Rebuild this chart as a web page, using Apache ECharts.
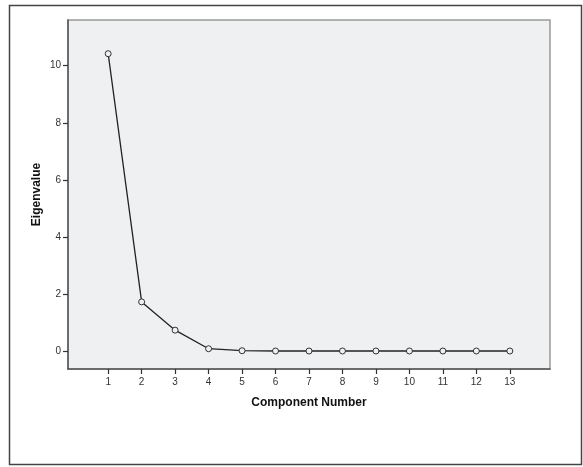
<!DOCTYPE html>
<html>
<head>
<meta charset="utf-8">
<script src="https://cdn.jsdelivr.net/npm/echarts@6/dist/echarts.min.js"></script>
<style>html,body{margin:0;padding:0;background:#fff;}#c{width:583px;height:467px;}</style>
</head>
<body>
<div id="c"></div>
<script>
var components = [1,2,3,4,5,6,7,8,9,10,11,12,13];
var eigenvalues = [10.42,1.73,0.74,0.09,0.02,0.01,0.01,0.01,0.01,0.01,0.01,0.01,0.01];
var yTicks = [0,2,4,6,8,10];
var xTitle = 'Component Number';
var yTitle = 'Eigenvalue';

var chart = echarts.init(document.getElementById('c'), null, {renderer:'canvas'});
var pts = components.map(function(c,i){return [c, eigenvalues[i]];});
chart.setOption({
  animation:false,
  backgroundColor:'#fff',
  graphic:[{type:'rect',shape:{x:9.5,y:5.5,width:572,height:459},style:{fill:'none',stroke:'#444',lineWidth:1.5},z:-1}],
  grid:{left:68,top:20,right:33,bottom:98,show:true,backgroundColor:'#eff0f2',borderColor:'#999',borderWidth:1.5},
  xAxis:{type:'value',min:-0.2,max:14.2,
    name:xTitle,nameLocation:'middle',nameGap:28,nameMoveOverlap:false,
    nameTextStyle:{fontFamily:'Liberation Sans',fontWeight:'bold',fontSize:12,color:'#111'},
    axisLine:{show:true,onZero:false,lineStyle:{color:'#555',width:1.5}},
    axisTick:{show:true,length:5,lineStyle:{color:'#333',width:1.2},customValues:components},
    axisLabel:{fontFamily:'Liberation Sans',fontSize:10,color:'#333',margin:8,customValues:components},
    splitLine:{show:false}},
  yAxis:{type:'value',min:-0.62,max:11.6,
    name:yTitle,nameLocation:'middle',nameGap:25,nameRotate:90,nameMoveOverlap:false,
    nameTextStyle:{fontFamily:'Liberation Sans',fontWeight:'bold',fontSize:12,color:'#111'},
    axisLine:{show:true,onZero:false,lineStyle:{color:'#555',width:1.5}},
    axisTick:{show:true,length:5,lineStyle:{color:'#333',width:1.2},customValues:yTicks},
    axisLabel:{fontFamily:'Liberation Sans',fontSize:10,color:'#333',margin:7,customValues:yTicks},
    splitLine:{show:false}},
  series:[{type:'line',data:pts,symbol:'circle',symbolSize:6,
    lineStyle:{color:'#222',width:1.3},
    itemStyle:{color:'#eff0f2',borderColor:'#333',borderWidth:1}}]
});
</script>
</body>
</html>
